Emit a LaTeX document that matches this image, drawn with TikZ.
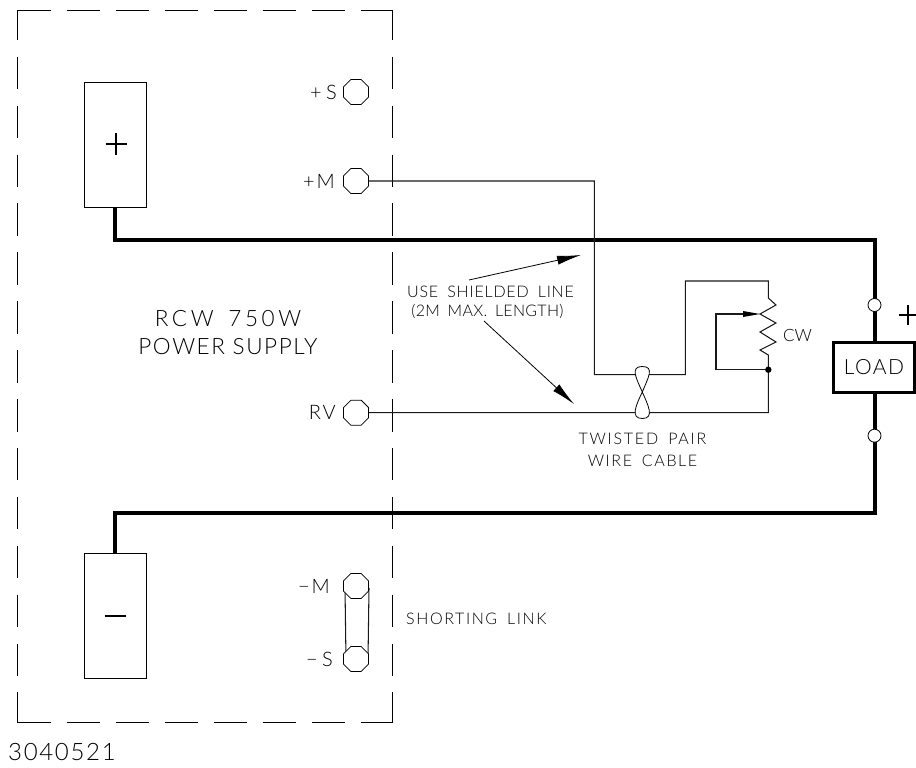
\documentclass[tikz,border=0pt]{standalone}
\usepackage{fontspec}
\setmainfont{Lato Light}
\usetikzlibrary{shapes.geometric,arrows.meta,calc}
\newcommand{\lsp}[1]{\addfontfeature{LetterSpace=#1}}
\tikzset{
  px/.style={x=1pt,y=-1pt},
  thinwire/.style={draw=black!90,line width=1.05pt},
  heavy/.style={draw=black,line width=4pt,line join=miter},
  dashh/.style={draw=black,line width=0.9pt,dash pattern=on 33pt off 16pt},
  dashv/.style={draw=black,line width=0.9pt,dash pattern=on 32.5pt off 16.4pt,dash phase=2.5pt},
  terminal/.style={regular polygon,regular polygon sides=8,draw=black,line width=0.8pt,minimum size=27pt,inner sep=0pt,fill=white},
  supply/.style={draw=black,line width=0.9pt,minimum width=62pt,minimum height=125pt,inner sep=0pt},
  opencirc/.style={circle,draw=black,line width=0.8pt,fill=white,minimum size=13pt,inner sep=0pt},
  loadbox/.style={draw=black,line width=2.3pt,fill=white,minimum width=81pt,minimum height=50pt,inner sep=0pt},
  txt/.style={inner sep=0pt,font=\fontsize{16}{16}\selectfont},
  big/.style={inner sep=0pt,font=\fontsize{22.5}{22.5}\selectfont\lsp{7}},
  term/.style={inner sep=0pt,font=\fontsize{20}{20}\selectfont\lsp{10}},
  leader/.style={draw=black,line width=0.8pt,-{Latex[length=24pt,width=9pt]}},
}
\begin{document}
\begin{tikzpicture}[px]
\useasboundingbox (0,0) rectangle (916,768);
% dashed enclosure
\coordinate (tl) at (17.5,10.3);
\coordinate (tr) at (392.7,10.3);
\coordinate (bl) at (17.5,722.7);
\coordinate (br) at (392.7,722.7);
\draw[dashh] (tl) -- (tr);
\draw[dashh] (bl) -- (br);
\draw[dashv] (tl) -- (bl);
\draw[dashv] (tr) -- (br);
% supply blocks
\node[supply] (plus) at (115.3,144.5) {};
\node[supply] (minus) at (115.3,616) {};
\draw[line width=1.3pt] (105.5,144) -- (127,144) (116,133) -- (116,155);
\draw[line width=1.3pt] (104.5,616) -- (126,616);
% link
\coordinate (lk1) at (345,588);
\coordinate (lk2) at (346,660);
\coordinate (lk3) at (369,588);
\coordinate (lk4) at (368,660);
\draw[thinwire] (lk1) -- (lk2) (lk3) -- (lk4);
% terminals
\node[terminal] (ps) at (356,92) {};
\node[terminal] (pm) at (356,181) {};
\node[terminal] (rv) at (356,412.7) {};
\node[terminal] (mm) at (356,586) {};
\node[terminal] (ms) at (356,659) {};
\node[term,anchor=east,font=\fontsize{20}{20}\selectfont\lsp{22}] at (337,92) {+S};
\node[term,anchor=east] at (335,181) {+M};
\node[term,anchor=east] at (336,412.7) {RV};
\node[term,anchor=east] at (330,586) {−M};
\node[term,anchor=east,font=\fontsize{20}{20}\selectfont\lsp{22}] at (333,659) {−S};
% load
\node[loadbox] (load) at (874,367.5) {\fontsize{21}{21}\selectfont\lsp{7}LOAD};
\coordinate (c1) at (115.3,239.5);
\coordinate (c2) at (874.5,239.5);
\coordinate (c3) at (874.5,512.5);
\coordinate (c4) at (115.3,512.5);
\draw[heavy] (plus.south) -- (c1) -- (c2) -- (c2 |- load.north);
\draw[heavy] (c3 |- load.south) -- (c3) -- (c4) -- (minus.north);
\node[opencirc] (o1) at (874.5,305) {};
\node[opencirc] (o2) at (874.5,435.7) {};
\draw[line width=1.2pt] (899,315) -- (916,315) (908,305) -- (908,325);
% sense wiring
\coordinate (a1) at (594.3,181);
\coordinate (a2) at (594.3,374.7);
\coordinate (a3) at (685.3,374.7);
\coordinate (a4) at (685.3,281);
\coordinate (a5) at (768.3,281);
\coordinate (r0) at (768.3,298);
\coordinate (r8) at (768.3,355);
\coordinate (d1) at (768.3,369.7);
\coordinate (b1) at (768.3,412.7);
\draw[thinwire] (pm.east) -- (a1) -- (a2) -- (a3) -- (a4) -- (a5) -- (r0)
  -- (776,305) -- (760,314) -- (776,323) -- (760,332) -- (776,342) -- (760,350) -- (r8) -- (b1) -- (rv.east);
\coordinate (w1) at (716,314);
\coordinate (w2) at (716,369.7);
\draw[thinwire] (d1) -- (w2) -- (w1) -- (743,314);
\fill[black] (743,311) -- (760,314) -- (743,317) -- cycle;
\fill[black] (d1) circle (3.2pt);
% twist
\draw[draw=black,line width=0.8pt,fill=white]
  (642.3,366.5) .. controls (630,366.5) and (636,378) .. (642.3,392)
  .. controls (648,405) and (655,418.5) .. (642.3,418.5)
  .. controls (630,418.5) and (636,405) .. (642.3,392)
  .. controls (648,378) and (655,366.5) .. (642.3,366.5) -- cycle;
% labels
\node[big,font=\fontsize{22.5}{22.5}\selectfont\lsp{16}] at (228,319) {RCW\hspace{5pt} 750W};
\node[big] at (228,347) {POWER SUPPLY};
\node[txt,font=\fontsize{16}{16}\selectfont\lsp{5}] (use) at (490.5,292) {USE\hspace{4pt} SHIELDED\hspace{4pt} LINE};
\node[txt,font=\fontsize{16}{16}\selectfont\lsp{2}] (len) at (487.5,311) {(2M\hspace{3pt} MAX.\hspace{3pt} LENGTH)};
\coordinate (s1) at (469,280);
\coordinate (t1) at (581,255);
\coordinate (s2) at (484,321);
\coordinate (t2) at (574,404);
\draw[leader] (s1) -- (t1);
\draw[leader] (s2) -- (t2);
\node[txt,font=\fontsize{16}{16}\selectfont\lsp{11}] at (642.5,439) {TWISTED\hspace{4pt} PAIR};
\node[txt,font=\fontsize{16}{16}\selectfont\lsp{10}] at (642.5,461) {WIRE\hspace{4pt} CABLE};
\node[txt,anchor=west,font=\fontsize{16}{16}\selectfont\lsp{10}] at (406,619) {SHORTING\hspace{4pt} LINK};
\node[txt,anchor=west,font=\fontsize{17}{17}\selectfont] at (783,335) {CW};
\node[inner sep=0pt,anchor=west,font=\fontsize{24}{24}\selectfont\lsp{7}] at (8,752) {3040521};
\end{tikzpicture}
\end{document}
